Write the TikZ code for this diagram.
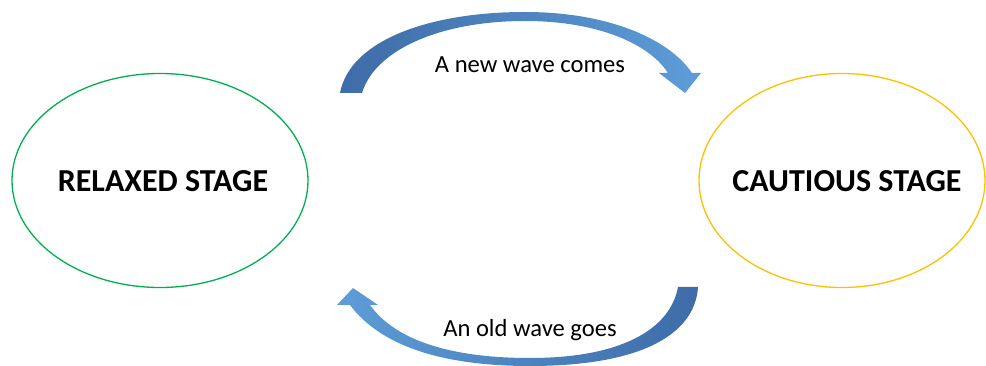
\documentclass[tikz,border=0pt]{standalone}
\usepackage{fontspec}
\setmainfont{Carlito}
\usetikzlibrary{shapes.geometric}
\definecolor{arrdark}{RGB}{62,108,168}
\definecolor{arrlight}{RGB}{93,157,216}
\definecolor{relaxgreen}{RGB}{0,176,80}
\definecolor{cautionyellow}{RGB}{255,192,0}
\tikzset{
  stage/.style={ellipse, draw, line width=1.3pt, inner sep=0pt,
    font=\fontsize{32}{38}\selectfont\bfseries},
  wavelabel/.style={anchor=base, inner sep=0pt, font=\fontsize{24.6}{30}\selectfont},
  blockarrow/.style={draw=none}
}
\begin{document}
\begin{tikzpicture}[x=1pt,y=-1pt]
\useasboundingbox (0,0) rectangle (986,366);
% stages
\node[stage, draw=relaxgreen, minimum width=296pt, minimum height=214pt] (relaxed) at (160,180.5) {};
\node[font=\fontsize{32}{38}\selectfont\bfseries, inner sep=0pt] (relaxedtext) at (163,181) {RELAXED STAGE};
\node[stage, draw=cautionyellow, minimum width=286pt, minimum height=214pt] (cautious) at (842,180.5) {};
\node[font=\fontsize{32}{38}\selectfont\bfseries, inner sep=0pt] (cautioustext) at (847,181) {CAUTIOUS STAGE};
% top curved arrow (relaxed -> cautious)
\shade[blockarrow, left color=arrdark, right color=arrlight]
  (340,93) .. controls (350,40) and (430,12) .. (525,12)
  .. controls (610,12) and (670,40) .. (692,73)
  -- (701,73) -- (685,93) -- (659,73) -- (668,73)
  .. controls (650,45) and (600,21) .. (525,21)
  .. controls (440,21) and (375,50) .. (362,93) -- cycle;
\node[wavelabel] (newwave) at (530,73) {A new wave comes};
% bottom curved arrow (cautious -> relaxed)
\shade[blockarrow, left color=arrlight, right color=arrdark]
  (698,287) .. controls (695,335) and (640,366) .. (530,366)
  .. controls (440,366) and (380,345) .. (350,305)
  -- (337,305) -- (353,288) -- (378,305) -- (370,305)
  .. controls (395,340) and (450,358) .. (530,358)
  .. controls (620,358) and (670,330) .. (678,287) -- cycle;
\node[wavelabel] (oldwave) at (530,337) {An old wave goes};
\end{tikzpicture}
\end{document}
